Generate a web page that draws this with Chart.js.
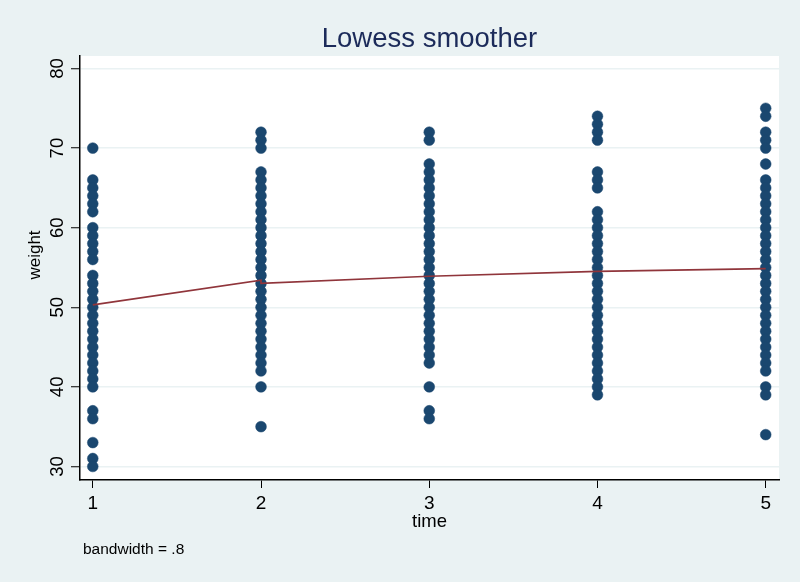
<!DOCTYPE html>
<html>
<head>
<meta charset="utf-8">
<script src="https://cdn.jsdelivr.net/npm/chart.js@4"></script>
<style>
  html, body { margin: 0; padding: 0; background: #eaf2f3; }
  #wrap { width: 800px; height: 582px; }
</style>
</head>
<body>
<div id="wrap"><canvas id="grafico" width="800" height="582"></canvas></div>
<script>
const weightsTime1 = [70, 66, 65, 64, 63, 62, 60, 59, 58, 57, 56, 54, 53, 52, 51, 50, 49, 48, 47, 46, 45, 44, 43, 42, 41, 40, 37, 36, 33, 31, 30];
const weightsTime2 = [72, 71, 70, 67, 66, 65, 64, 63, 62, 61, 60, 59, 58, 57, 56, 55, 54, 53, 52, 51, 50, 49, 48, 47, 46, 45, 44, 43, 42, 40, 35];
const weightsTime3 = [72, 71, 68, 67, 66, 65, 64, 63, 62, 61, 60, 59, 58, 57, 56, 55, 54, 53, 52, 51, 50, 49, 48, 47, 46, 45, 44, 43, 40, 37, 36];
const weightsTime4 = [74, 73, 72, 71, 67, 66, 65, 62, 61, 60, 59, 58, 57, 56, 55, 54, 53, 52, 51, 50, 49, 48, 47, 46, 45, 44, 43, 42, 41, 40, 39];
const weightsTime5 = [75, 74, 72, 71, 70, 68, 66, 65, 64, 63, 62, 61, 60, 59, 58, 57, 56, 55, 54, 53, 52, 51, 50, 49, 48, 47, 46, 45, 44, 43, 42, 40, 39, 34];

// lowess fit (two values at time 2 because of the ties)
const lowessX = [1, 2, 2, 3, 4, 5];
const lowessY = [50.3, 53.4, 53.0, 53.9, 54.5, 54.85];

const xTicks = [1, 2, 3, 4, 5];
const yTicks = [30, 40, 50, 60, 70, 80];

const FONT = "'Liberation Sans', Arial, sans-serif";
const BG = "#eaf2f3";

const scatterPoints = [];
[weightsTime1, weightsTime2, weightsTime3, weightsTime4, weightsTime5].forEach((ws, i) => {
    ws.forEach(w => scatterPoints.push({ x: xTicks[i], y: w }));
});
const lowessPoints = lowessX.map((x, i) => ({ x: x, y: lowessY[i] }));

const stataBackground = {
    id: "stataBackground",
    beforeDraw(chart) {
        const ctx = chart.ctx;
        const a = chart.chartArea;
        ctx.save();
        ctx.fillStyle = BG;
        ctx.fillRect(0, 0, chart.width, chart.height);
        ctx.fillStyle = "#ffffff";
        ctx.fillRect(a.left, a.top, a.right - a.left, a.bottom - a.top);
        ctx.restore();
    },
    afterDraw(chart) {
        const ctx = chart.ctx;
        const a = chart.chartArea;
        ctx.save();
        ctx.fillStyle = "#1c2b5a";
        ctx.font = "27.5px " + FONT;
        ctx.textAlign = "center";
        ctx.textBaseline = "alphabetic";
        ctx.fillText("Lowess smoother", (a.left + a.right) / 2, 47);
        ctx.fillStyle = "#000000";
        ctx.font = "15.5px " + FONT;
        ctx.textAlign = "left";
        ctx.fillText("bandwidth = .8", 83, 554);
        // y axis title
        ctx.font = "17px " + FONT;
        ctx.textAlign = "center";
        ctx.textBaseline = "middle";
        ctx.translate(35, 255);
        ctx.rotate(-Math.PI / 2);
        ctx.fillText("weight", 0, 0);
        ctx.restore();
    }
};

const ctx = document.getElementById("grafico").getContext("2d");
new Chart(ctx, {
    type: "scatter",
    data: {
        datasets: [
            {
                label: "lowess",
                type: "line",
                data: lowessPoints,
                borderColor: "#90353b",
                borderWidth: 1.7,
                pointRadius: 0,
                fill: false,
                tension: 0
            },
            {
                label: "weight",
                data: scatterPoints,
                backgroundColor: "#1a476f",
                borderColor: "#1a476f",
                borderWidth: 0.5,
                pointRadius: 5.4
            }
        ]
    },
    options: {
        responsive: false,
        animation: false,
        layout: { padding: { top: 56, right: 21, left: 0, bottom: 0 } },
        plugins: {
            legend: { display: false },
            tooltip: { enabled: false }
        },
        scales: {
            x: {
                type: "linear",
                min: 0.924,
                max: 5.079,
                afterBuildTicks: s => { s.ticks = xTicks.map(v => ({ value: v })); },
                afterFit: s => { s.height = 102; },
                grid: { drawOnChartArea: false, drawTicks: true, tickLength: 8, tickColor: "#000", tickWidth: 1 },
                border: { color: "#000", width: 1.5 },
                ticks: { color: "#000", font: { family: FONT, size: 19 }, padding: 4, maxRotation: 0 },
                title: { display: true, text: "time", color: "#000", font: { family: FONT, size: 18.5 }, padding: { top: 0, bottom: 49 } }
            },
            y: {
                type: "linear",
                min: 28.3,
                max: 81.57,
                afterBuildTicks: s => { s.ticks = yTicks.map(v => ({ value: v })); },
                afterFit: s => { s.width = 80; },
                grid: { color: BG, lineWidth: 1.5, drawTicks: true, tickLength: 9, tickColor: "#000", tickWidth: 1 },
                border: { color: "#000", width: 1.5 },
                ticks: { color: "#000", font: { family: FONT, size: 18.5 }, padding: 3, minRotation: 90, maxRotation: 90, crossAlign: "center" },
                title: { display: false }
            }
        }
    },
    plugins: [stataBackground]
});
</script>
</body>
</html>
